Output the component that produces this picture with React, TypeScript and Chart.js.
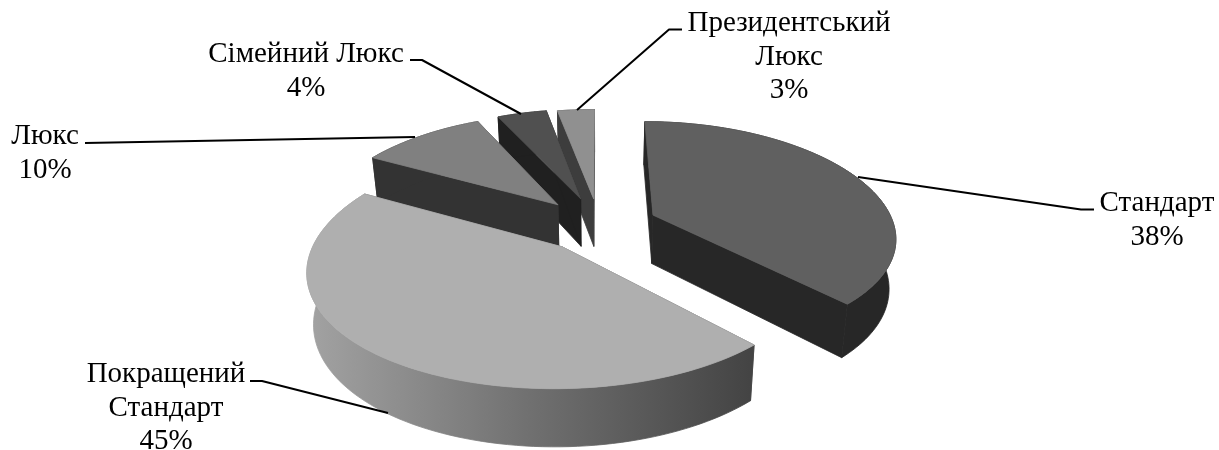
import { useEffect, useRef } from "react";
import { Chart, registerables } from "chart.js";

Chart.register(...registerables);

const categories = ["Стандарт", "Покращений Стандарт", "Люкс", "Сімейний Люкс", "Президентський Люкс"];
const shares = [38, 45, 10, 4, 3];
const explosion = [59, 58, 62, 62, 59];
const topColors = ["#606060", "#afafaf", "#808080", "#505050", "#909090"];
const sideColors = ["#272727", "#5c5c5c", "#333333", "#202020", "#3d3d3d"];
const labelLines = [["Стандарт"], ["Покращений", "Стандарт"], ["Люкс"], ["Сімейний Люкс"], ["Президентський", "Люкс"]];

// Painter's order: far wedges first, the large front wedge last.
const paintOrder = [4, 3, 2, 0, 1];

// Where each callout's text block sits and how its leader runs.
const labelAnchors = [
  { x: 1157, y: 211 },
  { x: 166, y: 382 },
  { x: 45, y: 144 },
  { x: 306, y: 62 },
  { x: 789, y: 31 },
];
const leaders = [
  [[1094, 209.5], [1081, 209.5], [858, 177]],
  [[250, 381], [262, 381], [388, 413]],
  [[85, 143], [415, 137]],
  [[410, 60], [422, 60], [521, 114]],
  [[682, 29.5], [669, 29.5], [577, 110]],
];

// Perspective of the tilted disc, and the drop to its lower rim.
const TILT = 0.462;
const PERSPECTIVE_X = 0.18;
const PERSPECTIVE_Y = 0.16;
const RIM_DROP = 49;
const RIM_SHRINK = 0.977;
const RIM_STRETCH = 0.056;

type Pt = [number, number];

const pie3d = {
  id: "pie3d",
  beforeDatasetsDraw(chart: any) {
    const ctx: CanvasRenderingContext2D = chart.ctx;
    const arcs = chart.getDatasetMeta(0).data;
    const cx = arcs[0].x;
    const cy = arcs[0].y;

    const project = (wx: number, wz: number): Pt => {
      const depth = wz / arcs[0].outerRadius;
      return [cx + wx / (1 - PERSPECTIVE_X * depth), cy + (TILT * wz) / (1 - PERSPECTIVE_Y * depth)];
    };
    const lower = ([x, y]: Pt): Pt => [
      cx + RIM_SHRINK * (x - cx),
      y + RIM_DROP + RIM_STRETCH * (y - cy),
    ];
    // Each face is stroked in its own colour so neighbouring polygons leave no hairline gap.
    const fill = (pts: Pt[], style: string | CanvasGradient) => {
      ctx.beginPath();
      pts.forEach(([x, y], i) => (i ? ctx.lineTo(x, y) : ctx.moveTo(x, y)));
      ctx.closePath();
      ctx.fillStyle = style;
      ctx.fill();
      ctx.strokeStyle = style;
      ctx.lineWidth = 0.8;
      ctx.stroke();
    };

    const wallGradient = ctx.createLinearGradient(310, 0, 750, 0);
    wallGradient.addColorStop(0, "#a2a2a2");
    wallGradient.addColorStop(0.5, "#707070");
    wallGradient.addColorStop(1, "#444444");

    ctx.save();
    for (const i of paintOrder) {
      const arc = arcs[i];
      const { startAngle, endAngle, outerRadius } = arc;
      const off = arc.options.offset;
      const mid = (startAngle + endAngle) / 2;
      const ax = Math.cos(mid) * off;
      const az = Math.sin(mid) * off;
      const apex = project(ax, az);

      const rim: Pt[] = [];
      const steps = 96;
      for (let s = 0; s <= steps; s++) {
        const t = startAngle + ((endAngle - startAngle) * s) / steps;
        rim.push(project(ax + Math.cos(t) * outerRadius, az + Math.sin(t) * outerRadius));
      }
      const first = rim[0];
      const last = rim[rim.length - 1];
      const side = sideColors[i];

      fill([apex, first, lower(first), lower(apex)], side);
      fill([apex, last, lower(last), lower(apex)], side);
      fill([...rim, ...rim.map(lower).reverse()], i === 1 ? wallGradient : side);
      fill([apex, ...rim], arc.options.backgroundColor);
    }
    ctx.restore();
    return false;
  },
  afterDraw(chart: any) {
    const ctx: CanvasRenderingContext2D = chart.ctx;
    ctx.save();
    ctx.strokeStyle = "#000000";
    ctx.lineWidth = 2;
    ctx.lineJoin = "round";
    for (const path of leaders) {
      ctx.beginPath();
      path.forEach(([x, y], i) => (i ? ctx.lineTo(x, y) : ctx.moveTo(x, y)));
      ctx.stroke();
    }
    ctx.fillStyle = "#000000";
    ctx.font = '29px "Liberation Serif"';
    ctx.textAlign = "center";
    ctx.textBaseline = "alphabetic";
    labelLines.forEach((lines, i) => {
      const rows = [...lines, `${shares[i]}%`];
      rows.forEach((row, r) => {
        ctx.fillText(row, labelAnchors[i].x, labelAnchors[i].y + r * 33.5);
      });
    });
    ctx.restore();
  },
};

export default function App() {
  const ref = useRef<HTMLCanvasElement>(null);
  useEffect(() => {
    document.body.style.margin = "0";
    document.body.style.background = "#ffffff";
    const chart = new Chart(ref.current as HTMLCanvasElement, {
      type: "pie",
      data: {
        labels: categories,
        datasets: [
          {
            data: shares,
            backgroundColor: topColors,
            offset: explosion,
            borderWidth: 0,
          },
        ],
      },
      options: {
        animation: false,
        responsive: false,
        radius: 241,
        layout: { padding: { right: 21 } },
        plugins: { legend: { display: false }, tooltip: { enabled: false }, title: { display: false } },
      } as any,
      plugins: [pie3d],
    } as any);
    return () => chart.destroy();
  }, []);
  return <canvas ref={ref} width={1219} height={450} style={{ display: "block" }} />;
}
